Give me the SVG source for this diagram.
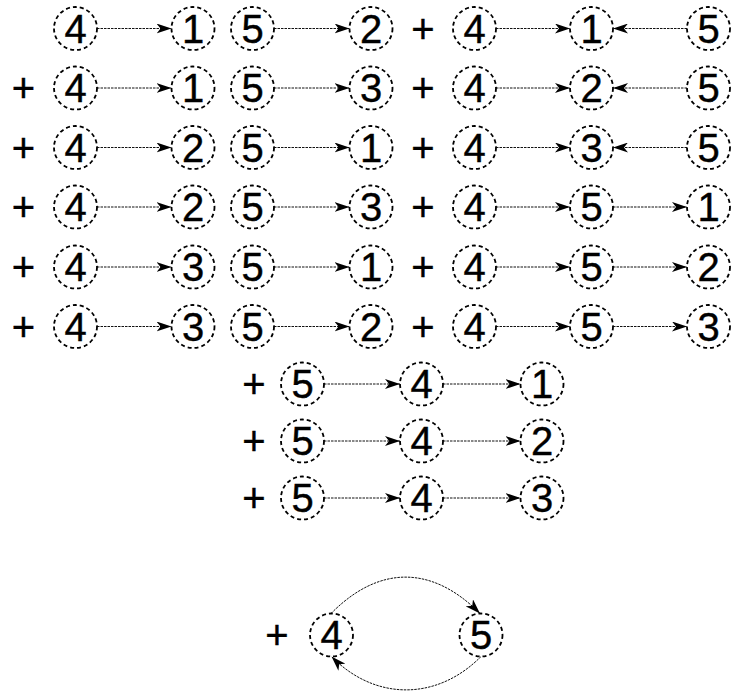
<svg xmlns="http://www.w3.org/2000/svg" width="731" height="693" viewBox="0 0 731 693">
<style>
.n circle{fill:#fff;stroke:#000;stroke-width:1.8;stroke-dasharray:4 3}
text{font-family:"Liberation Sans",Arial,sans-serif;font-size:40px;fill:#000;stroke:#000;stroke-width:0.4;text-anchor:middle}
.c line,.c path{fill:none;stroke:#111;stroke-width:1;stroke-dasharray:2.5 1;marker-end:url(#ah)}
</style>
<defs>
<marker id="ah" viewBox="0 0 15 10" refX="15" refY="5" markerWidth="15" markerHeight="10" markerUnits="userSpaceOnUse" orient="auto">
<path d="M0,0 L15,5 L0,10 L4,5 Z" fill="#000"/>
</marker>
</defs>
<g id="plus">
<text x="23.5" y="102">+</text><text x="23.5" y="161.5">+</text><text x="23.5" y="221">+</text><text x="23.5" y="281">+</text><text x="23.5" y="340.5">+</text>
<text x="423" y="42.5">+</text><text x="423" y="102">+</text><text x="423" y="161.5">+</text><text x="423" y="221">+</text><text x="423" y="281">+</text><text x="423" y="340.5">+</text>
<text x="254" y="398">+</text><text x="254" y="455">+</text><text x="254" y="512">+</text>
<text x="277" y="649">+</text>
</g>
<g class="c" id="connectors">
<line x1="97" y1="28.5" x2="171.5" y2="28.5"/><line x1="274" y1="28.5" x2="349.5" y2="28.5"/><line x1="496" y1="28.5" x2="570" y2="28.5"/><line x1="687" y1="28.5" x2="613" y2="28.5"/>
<line x1="97" y1="88" x2="171.5" y2="88"/><line x1="274" y1="88" x2="349.5" y2="88"/><line x1="496" y1="88" x2="570" y2="88"/><line x1="687" y1="88" x2="613" y2="88"/>
<line x1="97" y1="147.5" x2="171.5" y2="147.5"/><line x1="274" y1="147.5" x2="349.5" y2="147.5"/><line x1="496" y1="147.5" x2="570" y2="147.5"/><line x1="687" y1="147.5" x2="613" y2="147.5"/>
<line x1="97" y1="207" x2="171.5" y2="207"/><line x1="274" y1="207" x2="349.5" y2="207"/><line x1="496" y1="207" x2="570" y2="207"/><line x1="613" y1="207" x2="687" y2="207"/>
<line x1="97" y1="267" x2="171.5" y2="267"/><line x1="274" y1="267" x2="349.5" y2="267"/><line x1="496" y1="267" x2="570" y2="267"/><line x1="613" y1="267" x2="687" y2="267"/>
<line x1="97" y1="326.5" x2="171.5" y2="326.5"/><line x1="274" y1="326.5" x2="349.5" y2="326.5"/><line x1="496" y1="326.5" x2="570" y2="326.5"/><line x1="613" y1="326.5" x2="687" y2="326.5"/>
<line x1="324" y1="384" x2="400" y2="384"/><line x1="443" y1="384" x2="520.5" y2="384"/>
<line x1="324" y1="441" x2="400" y2="441"/><line x1="443" y1="441" x2="520.5" y2="441"/>
<line x1="324" y1="498" x2="400" y2="498"/><line x1="443" y1="498" x2="520.5" y2="498"/>
<path d="M331,613.5 C379,565 432,565 480,613.5"/>
<path d="M481,656.5 C437,701 375,701 331.5,656.5"/>
</g>
<g class="n" id="r1a"><circle cx="75.5" cy="28.5" r="21.5"/><text x="75.5" y="42.5">4</text></g>
<g class="n" id="r1b"><circle cx="193" cy="28.5" r="21.5"/><text x="193" y="42.5">1</text></g>
<g class="n" id="r1c"><circle cx="252.5" cy="28.5" r="21.5"/><text x="252.5" y="42.5">5</text></g>
<g class="n" id="r1d"><circle cx="371" cy="28.5" r="21.5"/><text x="371" y="42.5">2</text></g>
<g class="n" id="r1e"><circle cx="474.5" cy="28.5" r="21.5"/><text x="474.5" y="42.5">4</text></g>
<g class="n" id="r1f"><circle cx="591.5" cy="28.5" r="21.5"/><text x="591.5" y="42.5">1</text></g>
<g class="n" id="r1g"><circle cx="708.5" cy="28.5" r="21.5"/><text x="708.5" y="42.5">5</text></g>
<g class="n" id="r2a"><circle cx="75.5" cy="88" r="21.5"/><text x="75.5" y="102">4</text></g>
<g class="n" id="r2b"><circle cx="193" cy="88" r="21.5"/><text x="193" y="102">1</text></g>
<g class="n" id="r2c"><circle cx="252.5" cy="88" r="21.5"/><text x="252.5" y="102">5</text></g>
<g class="n" id="r2d"><circle cx="371" cy="88" r="21.5"/><text x="371" y="102">3</text></g>
<g class="n" id="r2e"><circle cx="474.5" cy="88" r="21.5"/><text x="474.5" y="102">4</text></g>
<g class="n" id="r2f"><circle cx="591.5" cy="88" r="21.5"/><text x="591.5" y="102">2</text></g>
<g class="n" id="r2g"><circle cx="708.5" cy="88" r="21.5"/><text x="708.5" y="102">5</text></g>
<g class="n" id="r3a"><circle cx="75.5" cy="147.5" r="21.5"/><text x="75.5" y="161.5">4</text></g>
<g class="n" id="r3b"><circle cx="193" cy="147.5" r="21.5"/><text x="193" y="161.5">2</text></g>
<g class="n" id="r3c"><circle cx="252.5" cy="147.5" r="21.5"/><text x="252.5" y="161.5">5</text></g>
<g class="n" id="r3d"><circle cx="371" cy="147.5" r="21.5"/><text x="371" y="161.5">1</text></g>
<g class="n" id="r3e"><circle cx="474.5" cy="147.5" r="21.5"/><text x="474.5" y="161.5">4</text></g>
<g class="n" id="r3f"><circle cx="591.5" cy="147.5" r="21.5"/><text x="591.5" y="161.5">3</text></g>
<g class="n" id="r3g"><circle cx="708.5" cy="147.5" r="21.5"/><text x="708.5" y="161.5">5</text></g>
<g class="n" id="r4a"><circle cx="75.5" cy="207" r="21.5"/><text x="75.5" y="221">4</text></g>
<g class="n" id="r4b"><circle cx="193" cy="207" r="21.5"/><text x="193" y="221">2</text></g>
<g class="n" id="r4c"><circle cx="252.5" cy="207" r="21.5"/><text x="252.5" y="221">5</text></g>
<g class="n" id="r4d"><circle cx="371" cy="207" r="21.5"/><text x="371" y="221">3</text></g>
<g class="n" id="r4e"><circle cx="474.5" cy="207" r="21.5"/><text x="474.5" y="221">4</text></g>
<g class="n" id="r4f"><circle cx="591.5" cy="207" r="21.5"/><text x="591.5" y="221">5</text></g>
<g class="n" id="r4g"><circle cx="708.5" cy="207" r="21.5"/><text x="708.5" y="221">1</text></g>
<g class="n" id="r5a"><circle cx="75.5" cy="267" r="21.5"/><text x="75.5" y="281">4</text></g>
<g class="n" id="r5b"><circle cx="193" cy="267" r="21.5"/><text x="193" y="281">3</text></g>
<g class="n" id="r5c"><circle cx="252.5" cy="267" r="21.5"/><text x="252.5" y="281">5</text></g>
<g class="n" id="r5d"><circle cx="371" cy="267" r="21.5"/><text x="371" y="281">1</text></g>
<g class="n" id="r5e"><circle cx="474.5" cy="267" r="21.5"/><text x="474.5" y="281">4</text></g>
<g class="n" id="r5f"><circle cx="591.5" cy="267" r="21.5"/><text x="591.5" y="281">5</text></g>
<g class="n" id="r5g"><circle cx="708.5" cy="267" r="21.5"/><text x="708.5" y="281">2</text></g>
<g class="n" id="r6a"><circle cx="75.5" cy="326.5" r="21.5"/><text x="75.5" y="340.5">4</text></g>
<g class="n" id="r6b"><circle cx="193" cy="326.5" r="21.5"/><text x="193" y="340.5">3</text></g>
<g class="n" id="r6c"><circle cx="252.5" cy="326.5" r="21.5"/><text x="252.5" y="340.5">5</text></g>
<g class="n" id="r6d"><circle cx="371" cy="326.5" r="21.5"/><text x="371" y="340.5">2</text></g>
<g class="n" id="r6e"><circle cx="474.5" cy="326.5" r="21.5"/><text x="474.5" y="340.5">4</text></g>
<g class="n" id="r6f"><circle cx="591.5" cy="326.5" r="21.5"/><text x="591.5" y="340.5">5</text></g>
<g class="n" id="r6g"><circle cx="708.5" cy="326.5" r="21.5"/><text x="708.5" y="340.5">3</text></g>
<g class="n" id="r7a"><circle cx="302.5" cy="384" r="21.5"/><text x="302.5" y="398">5</text></g>
<g class="n" id="r7b"><circle cx="421.5" cy="384" r="21.5"/><text x="421.5" y="398">4</text></g>
<g class="n" id="r7c"><circle cx="542" cy="384" r="21.5"/><text x="542" y="398">1</text></g>
<g class="n" id="r8a"><circle cx="302.5" cy="441" r="21.5"/><text x="302.5" y="455">5</text></g>
<g class="n" id="r8b"><circle cx="421.5" cy="441" r="21.5"/><text x="421.5" y="455">4</text></g>
<g class="n" id="r8c"><circle cx="542" cy="441" r="21.5"/><text x="542" y="455">2</text></g>
<g class="n" id="r9a"><circle cx="302.5" cy="498" r="21.5"/><text x="302.5" y="512">5</text></g>
<g class="n" id="r9b"><circle cx="421.5" cy="498" r="21.5"/><text x="421.5" y="512">4</text></g>
<g class="n" id="r9c"><circle cx="542" cy="498" r="21.5"/><text x="542" y="512">3</text></g>
<g class="n" id="r10a"><circle cx="331.5" cy="635" r="21.5"/><text x="331.5" y="649">4</text></g>
<g class="n" id="r10b"><circle cx="481" cy="635" r="21.5"/><text x="481" y="649">5</text></g>
</svg>
